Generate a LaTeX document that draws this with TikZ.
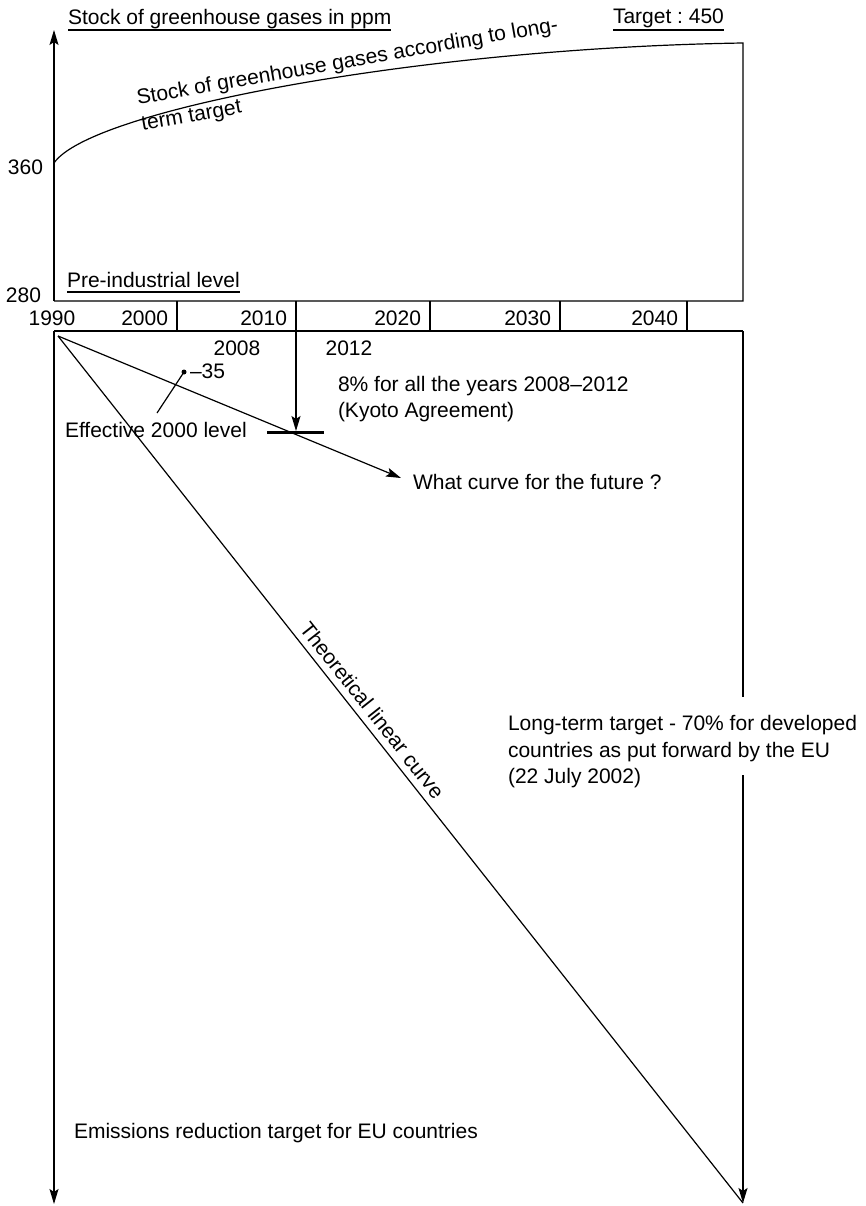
\documentclass[tikz,border=0pt]{standalone}
\usepackage{fontspec}
\setmainfont{Liberation Sans}
\usetikzlibrary{arrows.meta}
\frenchspacing
\begin{document}
\begin{tikzpicture}[x=1pt,y=-1pt,
  lbl/.style={inner sep=0pt, outer sep=0pt, font=\fontsize{21}{26}\selectfont},
  axisline/.style={line width=1.2pt},
  tipped/.style={axisline, -{Stealth[length=15pt,width=9pt,inset=3pt]}},
  uline/.style={line width=1.1pt},
]
\useasboundingbox (0,0) rectangle (865,1206);

% ---- upper chart: stock of greenhouse gases ----
\coordinate (O) at (54,301);
\coordinate (ytop) at (54,30);
\coordinate (c0) at (54,163);
\coordinate (c1) at (743,43);
\coordinate (br) at (743,301);
\draw[tipped] (O) -- (ytop);
\draw[axisline] (c0) .. controls (90,110) and (420,48) .. (c1) -- (br) -- (O);

\node[lbl, anchor=base west] (title) at (68,25) {Stock of greenhouse gases in ppm};
\draw[uline] ([yshift=-5pt]title.base west) -- ([yshift=-5pt]title.base east);
\node[lbl, anchor=base west] (target) at (613,24) {Target : 450};
\draw[uline] ([yshift=-6pt]target.base west) -- ([yshift=-6pt]target.base east);
\node[lbl, anchor=base east] (v360) at (43,175) {360};
\node[lbl, anchor=base east] (v280) at (41,302) {280};
\node[lbl, anchor=base west] (preind) at (67,287) {Pre-industrial level};
\draw[uline] ([yshift=-5pt]preind.base west) -- ([yshift=-5pt]preind.base east);

\node[lbl, rotate=10, anchor=base west] (curve1) at (138,105) {Stock of greenhouse gases according to long-};
\node[lbl, rotate=10, anchor=base west] (curve2) at (142.5,130.6) {term target};

% ---- year scale ----
\coordinate (Lt) at (54,331);
\coordinate (Rt) at (743,331);
\draw[axisline] (Lt) -- (Rt);
\foreach \x/\yr in {177/2000, 296/2010, 430/2020, 560/2030, 687/2040}{
  \draw[axisline] (\x,301) -- (\x,331);
  \node[lbl, anchor=base east] (y\yr) at (\x-9,325) {\yr};
}
\node[lbl, anchor=base] (y1990) at (52,325) {1990};

% ---- lower chart: emissions reduction ----
\coordinate (Lb) at (54,1204);
\coordinate (Rgap1) at (743,697);
\coordinate (Rgap2) at (743,775);
\coordinate (Rb) at (743,1203);
\coordinate (S) at (58,336);
\draw[tipped] (Lt) -- (Lb);
\draw[axisline] (Rt) -- (Rgap1);
\draw[tipped] (Rgap2) -- (Rb);

% theoretical linear path
\draw[axisline] (S) -- (Rb)
  node[lbl, sloped, pos=0.442, anchor=south, inner ysep=7pt] (theo) {Theoretical linear curve};

% Kyoto trajectory
\coordinate (fut) at (401,478);
\draw[tipped] (S) -- (fut);
\coordinate (barL) at (267,432);
\coordinate (barR) at (324,432);
\coordinate (barM) at (296,431);
\draw[line width=3pt] (barL) -- (barR);
\draw[tipped] (296,331) -- (barM);

\coordinate (dot) at (184,372);
\coordinate (lead) at (157,413);
\fill (dot) circle (2.5pt);
\draw[axisline] (dot) -- (lead);

\node[lbl, anchor=base] (y2008) at (237,355) {2008};
\node[lbl, anchor=base] (y2012) at (349,355) {2012};
\node[lbl, anchor=base west] (m35) at (190,378) {–35};
\node[lbl, anchor=base west] (kyoto1) at (338,391) {8\% for all the years 2008–2012};
\node[lbl, anchor=base west] (kyoto2) at (338,417) {(Kyoto Agreement)};
\node[lbl, anchor=base west] (eff) at (65,437) {Effective 2000 level};
\node[lbl, anchor=base west] (future) at (413,489) {What curve for the future ?};

\node[lbl, anchor=base west] (lt1) at (508,730) {Long-term target - 70\% for developed};
\node[lbl, anchor=base west] (lt2) at (508,757) {countries as put forward by the EU};
\node[lbl, anchor=base west] (lt3) at (508,783) {(22 July 2002)};

\node[lbl, anchor=base west] (emis) at (74,1138) {Emissions reduction target for EU countries};
\end{tikzpicture}
\end{document}
